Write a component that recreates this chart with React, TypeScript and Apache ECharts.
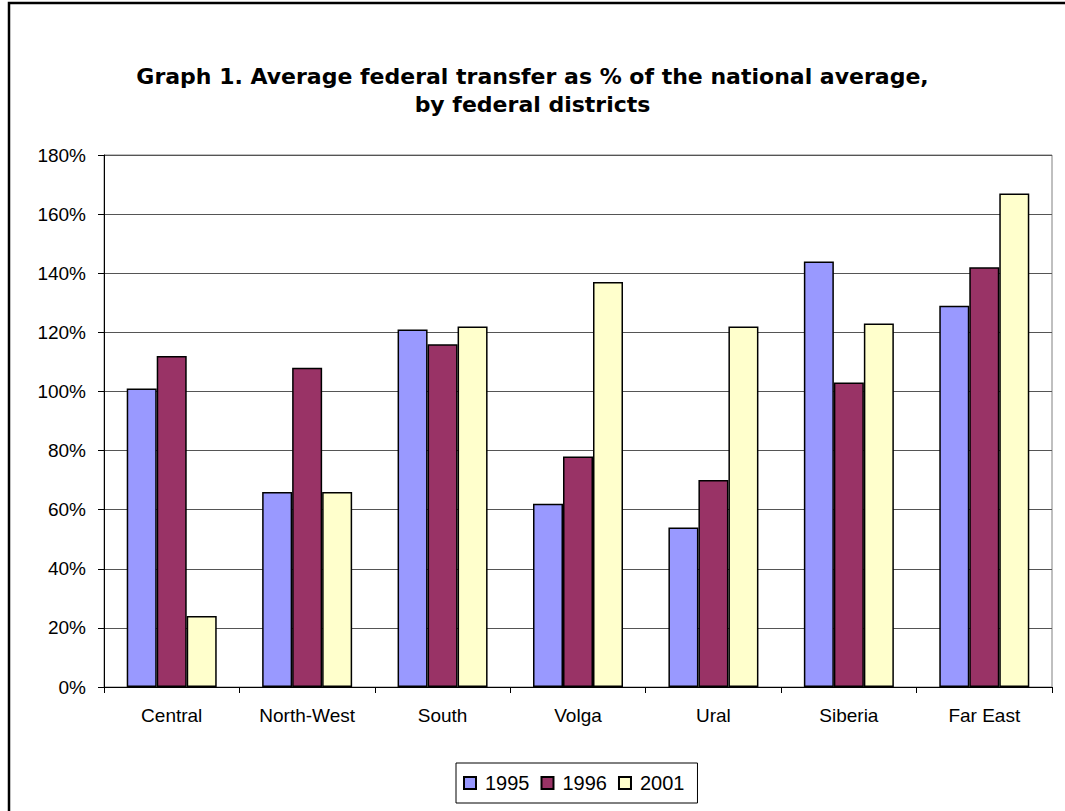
import React, { useEffect, useRef } from "react";
import * as echarts from "echarts";

const categories = ["Central", "North-West", "South", "Volga", "Ural", "Siberia", "Far East"];
const seriesNames = ["1995", "1996", "2001"];
const values1995 = [101, 66, 121, 62, 54, 144, 129];
const values1996 = [112, 108, 116, 78, 70, 103, 142];
const values2001 = [24, 66, 122, 137, 122, 123, 167];
const colors = ["#9999FF", "#993366", "#FFFFCC"];
const yTicks = { min: 0, max: 180, interval: 20 };

export default function App() {
  const ref = useRef<HTMLDivElement>(null);
  useEffect(() => {
    if (!ref.current) return;
    const chart = echarts.init(ref.current, null, { renderer: "svg" });
    const font = "Arial, 'Liberation Sans', sans-serif";
    const data = [values1995, values1996, values2001];
    chart.setOption({
      animation: false,
      backgroundColor: "#ffffff",
      title: {
        text: "Graph 1. Average federal transfer as % of the national average,\nby federal districts",
        left: "center",
        top: 57,
        textStyle: {
          fontFamily: "'DejaVu Sans', sans-serif",
          fontSize: 22,
          fontWeight: "bold",
          color: "#000",
          lineHeight: 28,
          align: "center",
        },
      },
      graphic: [
        {
          type: "rect",
          shape: { x: 9, y: 3, width: 1100, height: 900 },
          style: { fill: "none", stroke: "#000", lineWidth: 2.5 },
          silent: true,
        },
      ],
      grid: {
        left: 104,
        right: 13,
        top: 155,
        bottom: 124,
        show: true,
        borderColor: "#808080",
        borderWidth: 1,
        backgroundColor: "transparent",
      },
      legend: {
        data: seriesNames,
        left: 456,
        top: 763,
        orient: "horizontal",
        icon: "rect",
        itemWidth: 12,
        itemHeight: 12,
        itemGap: 11,
        padding: [10, 13, 10, 7],
        borderColor: "#000",
        borderWidth: 1,
        textStyle: { fontFamily: font, fontSize: 20, color: "#000", padding: [0, 0, 0, 4] },
      },
      xAxis: {
        type: "category",
        data: categories,
        axisLine: { show: true, lineStyle: { color: "#000", width: 1 } },
        axisTick: { show: true, length: 6, lineStyle: { color: "#000" } },
        axisLabel: { fontFamily: font, fontSize: 19, color: "#000", margin: 19 },
        splitLine: { show: false },
      },
      yAxis: {
        type: "value",
        min: yTicks.min,
        max: yTicks.max,
        interval: yTicks.interval,
        axisLine: { show: true, lineStyle: { color: "#000", width: 1 } },
        axisTick: { show: true, length: 6, lineStyle: { color: "#000" } },
        axisLabel: { fontFamily: font, fontSize: 19, color: "#000", margin: 18, formatter: "{value}%" },
        splitLine: { show: true, lineStyle: { color: "#555555", width: 1 } },
      },
      series: seriesNames.map((name, i) => ({
        name,
        type: "bar",
        data: data[i],
        barWidth: 30,
        barGap: "0%",
        barCategoryGap: "33%",
        itemStyle: { color: colors[i], borderColor: "#000", borderWidth: 1.5 },
      })),
    });
    return () => chart.dispose();
  }, []);
  return (
    <div
      ref={ref}
      style={{ position: "absolute", left: 0, top: 0, width: 1065, height: 811 }}
    />
  );
}
